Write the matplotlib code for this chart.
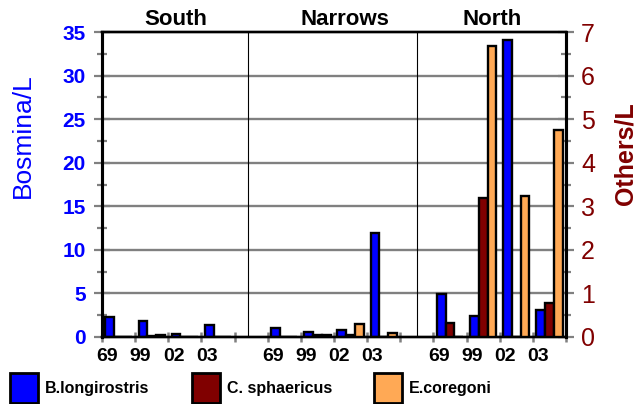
import matplotlib
matplotlib.use("Agg")
import matplotlib.pyplot as plt
import numpy as np
from matplotlib.patches import Rectangle

plt.rcParams['font.family'] = ['Liberation Sans', 'DejaVu Sans']

sites = ['South', 'Narrows', 'North']
years = ['69', '99', '02', '03']

# Bosmina/L (left axis)
bosmina_south = [2.25, 1.8, 0.3, 1.35]
bosmina_narrows = [1.0, 0.6, 0.77, 11.9]
bosmina_north = [4.9, 2.38, 34.1, 3.14]

# Others/L (right axis)
sphaericus_south = [0.0, 0.02, 0.0, 0.0]
sphaericus_narrows = [0.0, 0.05, 0.05, 0.0]
sphaericus_north = [0.31, 3.18, 0.0, 0.77]

coregoni_south = [0.0, 0.04, 0.0, 0.0]
coregoni_narrows = [0.0, 0.05, 0.29, 0.1]
coregoni_north = [0.0, 6.67, 3.24, 4.74]

BLUE = '#0000FF'
MAROON = '#800000'
ORANGE = '#FFA955'

W, H = 637, 404
fig = plt.figure(figsize=(W / 100, H / 100), dpi=100)
ax = fig.add_axes([102 / W, 1 - 337 / H, 464 / W, 305 / H])
ax2 = ax.twinx()

# category slots: 4 years per site, one empty slot between sites
starts = np.array([0, 5, 10])
bos = [bosmina_south, bosmina_narrows, bosmina_north]
sph = [sphaericus_south, sphaericus_narrows, sphaericus_north]
cor = [coregoni_south, coregoni_narrows, coregoni_north]

bw = 0.265
for s, b, m, o in zip(starts, bos, sph, cor):
    c = s + np.arange(4) + 0.5
    ax.bar(c - bw, b, bw, color=BLUE, edgecolor='black', linewidth=1.7, zorder=3)
    ax2.bar(c, m, bw, color=MAROON, edgecolor='black', linewidth=1.7, zorder=3)
    ax2.bar(c + bw, o, bw, color=ORANGE, edgecolor='black', linewidth=1.7, zorder=3)

ax.set_xlim(0, 14)
ax.set_ylim(0, 35)
ax2.set_ylim(0, 7)

# separators between sites
for xs in [4.4, 9.5]:
    ax.axvline(xs, color='black', lw=0.8, zorder=2)

# grid
ax.set_axisbelow(True)
ax.set_yticks(np.arange(0, 36, 5))
ax.set_yticks(np.arange(2.5, 35, 5), minor=True)
for yv in range(5, 35, 5):
    ax.axhline(yv, color='#808080', lw=1.7, zorder=1)

ax.tick_params(axis='y', which='major', direction='inout', length=11.5, width=1.6,
               color='#808080', pad=6, labelsize=15, labelcolor=BLUE)
ax.tick_params(axis='y', which='minor', direction='inout', length=7.5, width=1.6,
               color='#808080')
for t in ax.get_yticklabels():
    t.set_fontweight('bold')

ax2.set_yticks(np.arange(0, 8, 1))
ax2.set_yticks(np.arange(0.5, 7, 1), minor=True)
ax2.tick_params(axis='y', which='major', direction='inout', length=11.5, width=1.6,
                color='#808080', pad=5, labelsize=18, labelcolor=MAROON)
ax2.tick_params(axis='y', which='minor', direction='inout', length=7.5, width=1.6,
                color='#808080')

# x ticks at slot boundaries, labels near the left of each slot
ax.set_xticks(np.arange(0, 15))
ax.set_xticklabels([])
ax.tick_params(axis='x', which='major', direction='inout', length=7.5, width=1.8,
               color='#808080')
lab_pos = np.concatenate([s + np.arange(4) + 0.16 for s in starts])
ax.set_xticks(lab_pos, minor=True)
ax.set_xticklabels(years * 3, minor=True)
ax.tick_params(axis='x', which='minor', length=0, pad=8, labelsize=14)
for t in ax.get_xticklabels(minor=True):
    t.set_fontweight('bold')

for a in (ax, ax2):
    a.spines['left'].set_linewidth(2.2)
    a.spines['right'].set_linewidth(2.2)
    a.spines['top'].set_linewidth(1.7)
    a.spines['bottom'].set_linewidth(1.7)

# site titles
for name, xp in zip(sites, [2.23, 7.33, 11.77]):
    ax.annotate(name, xy=(xp, 1), xycoords=('data', 'axes fraction'),
                xytext=(0, 5), textcoords='offset points', ha='center',
                va='baseline', fontsize=16, fontweight='bold')

fig.text(23 / W, 1 - 136 / H, 'Bosmina/L', rotation=90, ha='center', va='center',
         color=BLUE, fontsize=19)
fig.text(626 / W, 1 - 154 / H, 'Others/L', rotation=90, ha='center', va='center',
         color=MAROON, fontsize=18, fontweight='bold')

# legend
legend_items = [('B.longirostris', BLUE, 10, 45),
                ('C. sphaericus', MAROON, 192, 227),
                ('E.coregoni', ORANGE, 374, 409)]
for label, col, x0, xt in legend_items:
    fig.add_artist(Rectangle((x0 / W, 1 - 403 / H), 28 / W, 30 / H,
                             transform=fig.transFigure, facecolor=col,
                             edgecolor='black', linewidth=2))
    fig.text(xt / W, 1 - 389 / H, label, ha='left', va='center',
             fontsize=11.5, fontweight='bold')

fig.savefig('out.png', dpi=100)
